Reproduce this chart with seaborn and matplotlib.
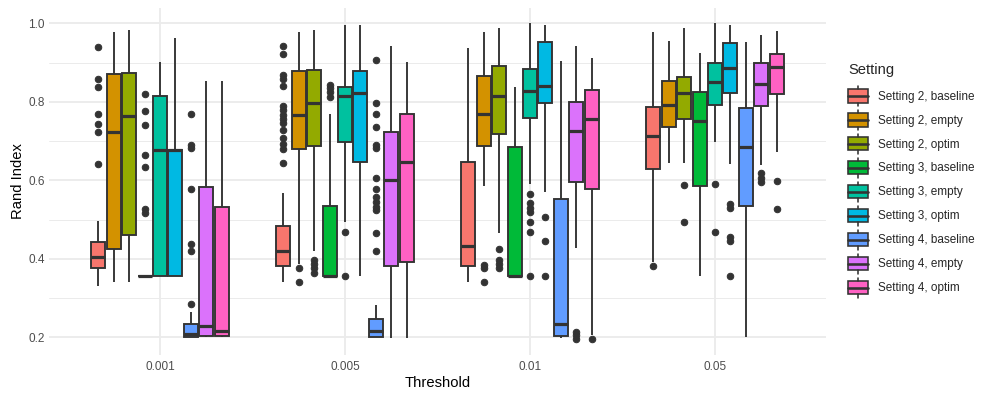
import numpy as np
import pandas as pd
import matplotlib
matplotlib.use("Agg")
import matplotlib.pyplot as plt
import seaborn as sns
from matplotlib.legend_handler import HandlerBase
from matplotlib.patches import Rectangle, Patch
from matplotlib.lines import Line2D
from matplotlib.ticker import FixedLocator

thresholds = ["0.001", "0.005", "0.01", "0.05"]
settings = ["Setting 2, baseline", "Setting 2, empty", "Setting 2, optim",
            "Setting 3, baseline", "Setting 3, empty", "Setting 3, optim",
            "Setting 4, baseline", "Setting 4, empty", "Setting 4, optim"]
colors = ["#F8766D", "#D39200", "#93AA00", "#00BA38", "#00C19F",
          "#00B9E3", "#619CFF", "#DB72FB", "#FF61C3"]

# box summaries, one row per threshold, one column per setting
whisk_lo = [[.332, .341, .341, .357, .357, .357, .200, .201, .201],
            [.340, .388, .421, .357, .494, .357, .200, .198, .198],
            [.340, .585, .465, .357, .592, .570, .198, .429, .205],
            [.393, .643, .643, .357, .698, .641, .200, .640, .673]]
q1 = [[.377, .424, .460, .357, .357, .357, .201, .203, .203],
      [.381, .679, .688, .357, .698, .646, .201, .381, .392],
      [.381, .688, .719, .357, .760, .798, .203, .596, .577],
      [.629, .736, .755, .585, .792, .822, .535, .789, .819]]
median = [[.404, .723, .764, .357, .677, .677, .210, .229, .217],
          [.421, .766, .796, .357, .816, .822, .216, .601, .647],
          [.433, .770, .816, .357, .828, .840, .233, .726, .757],
          [.714, .792, .822, .751, .851, .887, .686, .845, .888]]
q3 = [[.444, .872, .874, .357, .816, .677, .234, .582, .533],
      [.483, .879, .880, .534, .839, .879, .246, .723, .770],
      [.646, .866, .890, .685, .883, .952, .552, .800, .829],
      [.788, .852, .864, .826, .900, .949, .785, .900, .923]]
whisk_hi = [[.497, .979, .983, .357, .902, .962, .265, .853, .854],
            [.568, .979, .983, .769, .996, .996, .282, .942, .902],
            [.936, .979, .987, .837, 1.00, .996, .905, .942, .911],
            [.979, .956, .987, .924, 1.00, .996, .952, .969, .981]]
# (threshold index, setting index) -> outlying points
outliers = {
    (0, 0): [.939, .858, .839, .769, .743, .723, .641],
    (0, 3): [.821, .777, .740, .664, .633, .527, .517],
    (0, 6): [.769, .690, .682, .577, .438, .421, .285],
    (1, 0): [.941, .922, .868, .858, .840, .790, .779, .766, .755, .745,
             .728, .709, .692, .681, .643],
    (1, 1): [.377, .340],
    (1, 2): [.398, .388, .376, .364],
    (1, 3): [.843, .834, .826, .813],
    (1, 4): [.469, .357],
    (1, 6): [.907, .796, .769, .737, .690, .682, .605, .579, .558, .545,
             .533, .524, .465, .420],
    (2, 1): [.384, .378, .340],
    (2, 2): [.425, .398, .388, .378],
    (2, 4): [.564, .543, .530, .520, .494, .469, .357],
    (2, 5): [.507, .445, .357],
    (2, 7): [.214, .206, .197],
    (2, 8): [.196],
    (3, 0): [.381],
    (3, 2): [.588, .494],
    (3, 4): [.592, .469],
    (3, 5): [.539, .529, .455, .445, .357],
    (3, 7): [.620, .605, .595],
    (3, 8): [.598, .527],
}


def box_sample(lo, a, med, b, hi, outs):
    # sorted values whose quartiles / whiskers / fliers give back the summary
    low = sorted(v for v in outs if v < lo)
    high = sorted(v for v in outs if v > hi)
    m = max(len(low), len(high)) + 1
    return (low + [lo] + [a] * (m - len(low)) + [med] * m
            + [b] * (2 * m - len(high) - 1) + [hi] + high)


rows = []
for i, t in enumerate(thresholds):
    for j, s in enumerate(settings):
        vals = box_sample(whisk_lo[i][j], q1[i][j], median[i][j], q3[i][j],
                          whisk_hi[i][j], outliers.get((i, j), []))
        rows += [(t, s, v) for v in vals]
df = pd.DataFrame(rows, columns=["Threshold", "Setting", "Rand Index"])

sns.set_theme(style="white")
plt.rcParams["font.family"] = ["Liberation Sans", "DejaVu Sans"]

fig = plt.figure(figsize=(997 / 72, 399 / 72), dpi=72)
ax = fig.add_axes([49 / 997, 0.111, 777 / 997, 0.870])

sns.boxplot(data=df, x="Threshold", y="Rand Index", hue="Setting",
            order=thresholds, hue_order=settings, palette=colors,
            saturation=1, width=0.75, gap=0.1, linewidth=1.9,
            linecolor="#333333", showcaps=False, legend=False,
            flierprops=dict(marker="o", markersize=6.5,
                            markerfacecolor="#333333",
                            markeredgecolor="#333333"),
            medianprops=dict(linewidth=3.2), ax=ax)

ax.set_xlim(-0.6, 3.6)
ax.set_ylim(0.156, 1.040)
ax.set_yticks([0.2, 0.4, 0.6, 0.8, 1.0])
ax.set_yticklabels(["0.2", "0.4", "0.6", "0.8", "1.0"])
ax.yaxis.set_minor_locator(FixedLocator([0.3, 0.5, 0.7, 0.9]))
ax.set_axisbelow(True)
ax.grid(which="major", color="#EBEBEB", linewidth=1.9)
ax.grid(which="minor", axis="y", color="#EBEBEB", linewidth=0.95)
for sp in ax.spines.values():
    sp.set_visible(False)
ax.tick_params(which="both", length=0, labelsize=11.7, labelcolor="#4D4D4D")
ax.tick_params(axis="x", pad=6)
ax.tick_params(axis="y", pad=4)
ax.set_xlabel("Threshold", fontsize=14.7, color="black", labelpad=3)
ax.set_ylabel("Rand Index", fontsize=14.7, color="black", labelpad=3)


class BoxKey(HandlerBase):
    def create_artists(self, legend, orig, xd, yd, w, h, fontsize, trans):
        x0, y0 = -xd, -yd
        cx = x0 + w / 2
        box = Rectangle((x0, y0 + h * 0.17), w, h * 0.66,
                        facecolor=orig.get_facecolor(), edgecolor="#333333",
                        linewidth=1.6, transform=trans)
        med = Line2D([x0, x0 + w], [y0 + h / 2] * 2, color="#333333",
                     linewidth=2.6, transform=trans)
        top = Line2D([cx, cx], [y0 + h * 0.83, y0 + h], color="#333333",
                     linewidth=1.6, transform=trans)
        bot = Line2D([cx, cx], [y0, y0 + h * 0.17], color="#333333",
                     linewidth=1.6, transform=trans)
        return [box, med, top, bot]


handles = [Patch(facecolor=c) for c in colors]
leg = fig.legend(handles, settings, title="Setting", loc="upper left",
                 bbox_to_anchor=(848 / 997, 1 - 63 / 399), frameon=False,
                 fontsize=11.7, title_fontsize=14.7, alignment="left",
                 handler_map={Patch: BoxKey()}, handlelength=1.7,
                 handleheight=2.25, labelspacing=0.34, handletextpad=0.85,
                 borderpad=0, borderaxespad=0)
leg._legend_box.sep = 9  # a bit more room under the title, like ggplot

fig.savefig("out.png", dpi=72)
